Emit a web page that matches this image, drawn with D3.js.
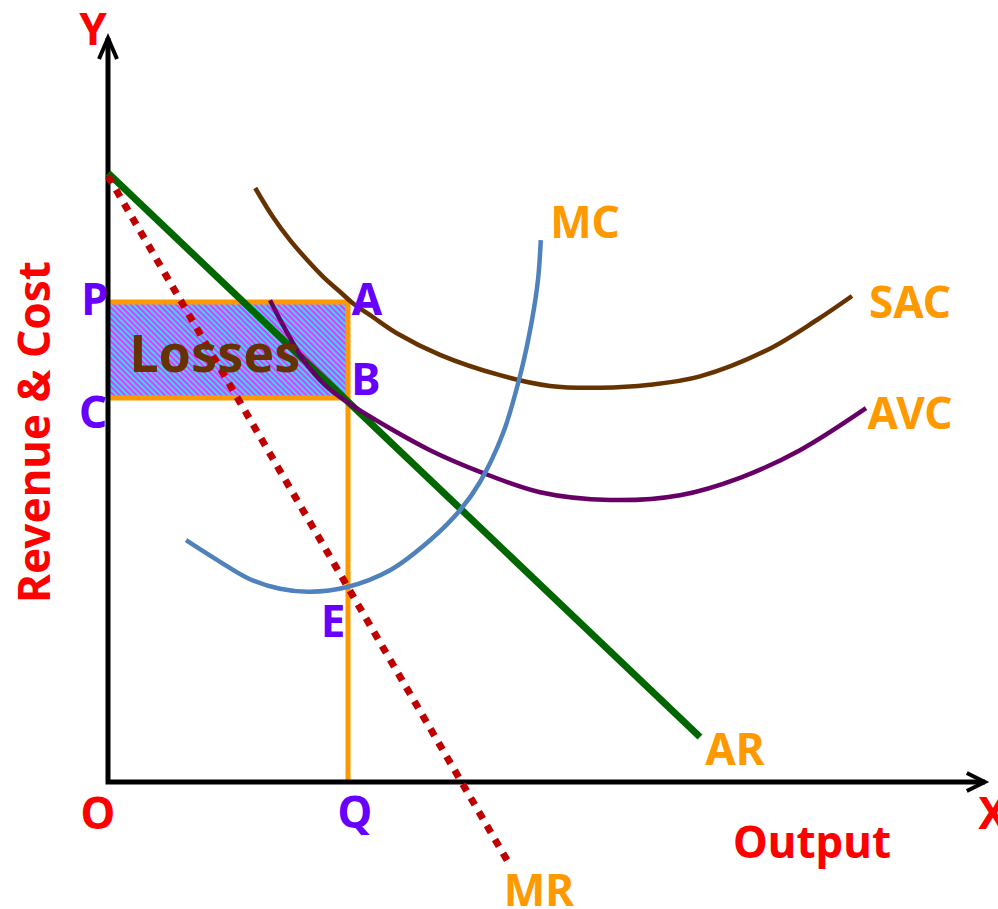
<!DOCTYPE html>
<html>
<head>
<meta charset="utf-8">
<script src="https://cdn.jsdelivr.net/npm/d3@7"></script>
<style>
  body { margin: 0; background: #fff; }
  svg { display: block; }
  .lbl { font-family: "Noto Sans", "Open Sans", sans-serif; font-weight: bold; }
</style>
</head>
<body>
<div id="chart"></div>
<script>
// svg size
var svgWidth = 998;
var svgHeight = 909;

// data: output (x) and revenue/cost (y) in chart units
var axisEnd = [109.6, 124];           // arrow tips of X and Y axes
var arLine = [[0, 101.5], [74, 7.5]];  // average revenue
var mrLine = [[0, 101], [50, -13.3]];  // marginal revenue
var mcCurve = [[9.75, 40.3], [14, 36.7], [17.75, 33.8], [21.5, 32.2], [25.25, 31.7], [29.9, 32.5],
    [35.25, 35.3], [40.25, 40.3], [44, 45.3], [46.5, 50], [49.4, 58.2], [51.6, 68.2],
    [53, 77], [53.75, 83.7], [54.1, 90.3]];
var sacCurve = [[18.4, 99], [20.6, 94.2], [22.75, 90.3], [24.9, 87], [26.9, 84.2], [29, 81.7],
    [30.6, 79.8], [33.1, 77.5], [36.1, 74.8], [41.5, 71.2], [49, 67.8], [55.25, 66],
    [61.5, 65.7], [67.75, 66.2], [74, 67.6], [82.4, 72], [88.6, 77], [93, 81]];
var avcCurve = [[20.25, 80.3], [22.1, 75.6], [24.4, 70.4], [27.1, 66.2], [29.9, 63.3], [34.9, 59.2],
    [40.25, 55.3], [46.5, 51.7], [54, 48.3], [62.75, 47], [71.5, 47.8], [79, 50.7],
    [86.5, 55.3], [94.75, 62.3]];
var qOut = 30;       // equilibrium output Q
var pPrice = 80;     // price P = SAC at Q (point A)
var cCost = 64;      // AR at Q (point B / C)

// scales
var xScale = d3.scaleLinear().domain([0, 100]).range([108, 908]);
var yScale = d3.scaleLinear().domain([0, 100]).range([782, 182]);

var svg = d3.select("#chart")
    .append("svg")
    .attr("width", svgWidth)
    .attr("height", svgHeight);

// hatch pattern for the loss area
var pat = svg.append("defs").append("pattern")
    .attr("id", "hatch")
    .attr("patternUnits", "userSpaceOnUse")
    .attr("width", 4).attr("height", 4)
    .attr("patternTransform", "rotate(-45)");
pat.append("rect").attr("width", 2).attr("height", 4).attr("fill", "#ff2cff");
pat.append("rect").attr("x", 2).attr("width", 2).attr("height", 4).attr("fill", "#22e4ff");

var line = d3.line().x(d => xScale(d[0])).y(d => yScale(d[1]));
var curve = d3.line().x(d => xScale(d[0])).y(d => yScale(d[1])).curve(d3.curveCatmullRom);

// losses rectangle
svg.append("rect")
    .attr("x", xScale(0))
    .attr("y", yScale(pPrice))
    .attr("width", xScale(qOut) - xScale(0))
    .attr("height", yScale(cCost) - yScale(pPrice))
    .attr("fill", "url(#hatch)");

// orange guide lines
var orange = "#ff9900";
svg.append("path")
    .attr("d", line([[0, pPrice], [qOut, pPrice], [qOut, 0]]))
    .attr("fill", "none").attr("stroke", orange).attr("stroke-width", 5);
svg.append("path")
    .attr("d", line([[0, cCost], [qOut, cCost]]))
    .attr("fill", "none").attr("stroke", orange).attr("stroke-width", 5);

// axes
svg.append("path")
    .attr("d", line([[0, axisEnd[1]], [0, 0], [axisEnd[0], 0]]))
    .attr("fill", "none").attr("stroke", "#000").attr("stroke-width", 5);
svg.append("path")
    .attr("transform", `translate(${xScale(0)}, ${yScale(axisEnd[1])})`)
    .attr("d", "M-9,21 L0,0 L9,21")
    .attr("fill", "none").attr("stroke", "#000").attr("stroke-width", 4);
svg.append("path")
    .attr("transform", `translate(${xScale(axisEnd[0])}, ${yScale(0)})`)
    .attr("d", "M-18,-9 L0,0 L-18,9")
    .attr("fill", "none").attr("stroke", "#000").attr("stroke-width", 4);

// curves
svg.append("path").attr("d", line(arLine))
    .attr("fill", "none").attr("stroke", "#006600").attr("stroke-width", 7);
svg.append("path").attr("d", curve(sacCurve))
    .attr("fill", "none").attr("stroke", "#663300").attr("stroke-width", 4.5);
svg.append("path").attr("d", curve(avcCurve))
    .attr("fill", "none").attr("stroke", "#660066").attr("stroke-width", 4.5);
svg.append("path").attr("d", curve(mcCurve))
    .attr("fill", "none").attr("stroke", "#4f81bd").attr("stroke-width", 4.5);
svg.append("path").attr("d", line(mrLine))
    .attr("fill", "none").attr("stroke", "#c00000").attr("stroke-width", 7)
    .attr("stroke-dasharray", "8,8");

// labels
var labels = [
    {t: "Y", x: 93, y: 45, c: "#ff0000"},
    {t: "O", x: 98, y: 829, c: "#ff0000"},
    {t: "X", x: 993, y: 829, c: "#ff0000"},
    {t: "Output", x: 812, y: 858, c: "#ff0000"},
    {t: "P", x: 95, y: 315, c: "#6600ff"},
    {t: "C", x: 93, y: 428, c: "#6600ff"},
    {t: "A", x: 367, y: 315, c: "#6600ff"},
    {t: "B", x: 366, y: 395, c: "#6600ff"},
    {t: "E", x: 333, y: 637, c: "#6600ff"},
    {t: "Q", x: 355, y: 828, c: "#6600ff"},
    {t: "MC", x: 585, y: 238, c: orange},
    {t: "SAC", x: 910, y: 318, c: orange},
    {t: "AVC", x: 910, y: 429, c: orange},
    {t: "AR", x: 735, y: 765, c: orange},
    {t: "MR", x: 539, y: 906, c: orange}
];
svg.selectAll("text.lbl")
    .data(labels)
    .enter()
    .append("text")
    .attr("class", "lbl")
    .attr("x", d => d.x)
    .attr("y", d => d.y)
    .attr("text-anchor", "middle")
    .attr("font-size", 44)
    .attr("fill", d => d.c)
    .text(d => d.t);

svg.append("text")
    .attr("class", "lbl")
    .attr("x", 215).attr("y", 372)
    .attr("text-anchor", "middle")
    .attr("font-size", 52)
    .attr("fill", "#663300")
    .text("Losses");

svg.append("text")
    .attr("class", "lbl")
    .attr("transform", "translate(50, 432) rotate(-90)")
    .attr("text-anchor", "middle")
    .attr("font-size", 44)
    .attr("fill", "#ff0000")
    .text("Revenue & Cost");
</script>
</body>
</html>
